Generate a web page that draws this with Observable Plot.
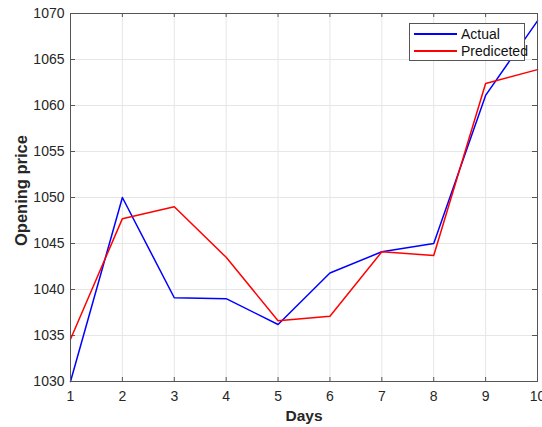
<!DOCTYPE html>
<html>
<head>
<meta charset="utf-8">
<script src="https://cdn.jsdelivr.net/npm/d3@7"></script>
<script src="https://cdn.jsdelivr.net/npm/@observablehq/plot@0.6"></script>
<style>
  html, body { margin: 0; padding: 0; background: #fff; }
  #wrap { position: relative; width: 542px; height: 427px; font-family: "Liberation Sans", Arial, sans-serif; }
  #legend { position: absolute; left: 409px; top: 23px; width: 116px; height: 38px; background: #fff; border: 1px solid #555; box-sizing: border-box; }
  #legend .row { position: absolute; left: 4px; height: 16px; display: flex; align-items: center; font-size: 14px; color: #111; }
  #legend .sw { width: 43px; height: 2px; margin-right: 4px; }
</style>
</head>
<body>
<div id="wrap"></div>
<script>
const days = [1, 2, 3, 4, 5, 6, 7, 8, 9, 10];
const actual = [1030.0, 1050.0, 1039.1, 1039.0, 1036.2, 1041.8, 1044.1, 1045.0, 1061.1, 1069.2];
const predicted = [1034.6, 1047.7, 1049.0, 1043.5, 1036.6, 1037.1, 1044.1, 1043.7, 1062.4, 1063.9];
const xTicks = [1, 2, 3, 4, 5, 6, 7, 8, 9, 10];
const yTicks = [1030, 1035, 1040, 1045, 1050, 1055, 1060, 1065, 1070];
const seriesNames = ["Actual", "Prediceted"];
const seriesColors = ["#0000ff", "#ff0000"];

const axisColor = "#262626";

const chart = Plot.plot({
  width: 542,
  height: 427,
  marginLeft: 70,
  marginRight: 5,
  marginTop: 13,
  marginBottom: 46,
  style: { fontFamily: "'Liberation Sans', Arial, sans-serif", color: axisColor, background: "#fff" },
  x: { domain: [1, 10] },
  y: { domain: [1030, 1070] },
  marks: [
    Plot.ruleX(xTicks, { stroke: "#e6e6e6", strokeWidth: 1 }),
    Plot.ruleY(yTicks, { stroke: "#e6e6e6", strokeWidth: 1 }),
    Plot.axisX(xTicks, { tickSize: 0, tickPadding: 10, fontSize: 14, label: null, fill: axisColor, tickFormat: d => String(d) }),
    Plot.axisY(yTicks, { tickSize: 0, tickPadding: 6, fontSize: 14, label: null, fill: axisColor, tickFormat: d => String(d) }),
    Plot.ruleX(xTicks, { stroke: "#555", insetTop: 364 }),
    Plot.ruleX(xTicks, { stroke: "#555", insetBottom: 364 }),
    Plot.ruleY(yTicks, { stroke: "#555", insetRight: 462 }),
    Plot.ruleY(yTicks, { stroke: "#555", insetLeft: 462 }),
    Plot.line(days.map((d, i) => ({ day: d, value: actual[i] })), { x: "day", y: "value", stroke: seriesColors[0], strokeWidth: 1.5 }),
    Plot.line(days.map((d, i) => ({ day: d, value: predicted[i] })), { x: "day", y: "value", stroke: seriesColors[1], strokeWidth: 1.5 }),
    Plot.frame({ stroke: "#555", strokeWidth: 1 }),
    Plot.text(["Days"], { frameAnchor: "bottom", dy: 39, fontWeight: "bold", fontSize: 15.5, fill: axisColor }),
    Plot.text(["Opening price"], { frameAnchor: "left", textAnchor: "middle", dx: -49, dy: -7, rotate: -90, fontWeight: "bold", fontSize: 16.5, fill: axisColor })
  ]
});

const wrap = document.getElementById("wrap");
wrap.appendChild(chart);

const legend = document.createElement("div");
legend.id = "legend";
seriesNames.forEach((name, i) => {
  const row = document.createElement("div");
  row.className = "row";
  row.style.top = (2 + i * 17) + "px";
  const sw = document.createElement("div");
  sw.className = "sw";
  sw.style.background = seriesColors[i];
  sw.style.height = "1.5px";
  const lbl = document.createElement("span");
  lbl.textContent = name;
  row.appendChild(sw);
  row.appendChild(lbl);
  legend.appendChild(row);
});
wrap.appendChild(legend);
</script>
</body>
</html>
